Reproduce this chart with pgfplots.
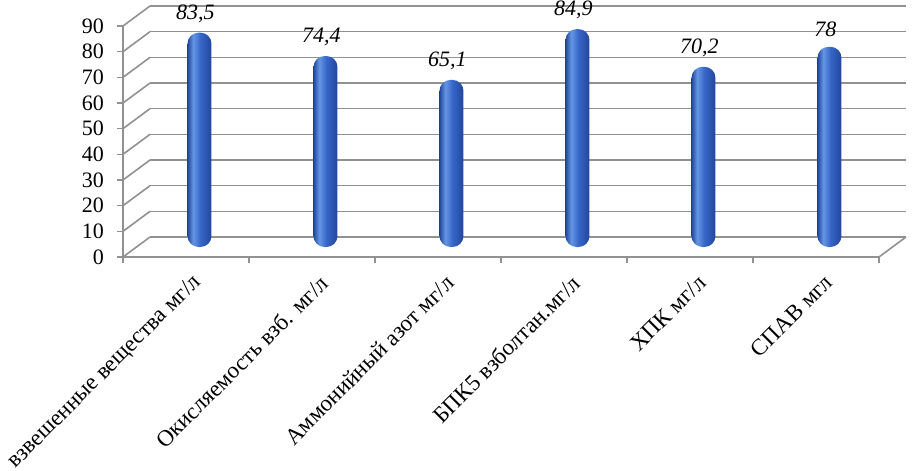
\documentclass[border=0pt]{standalone}
\usepackage{fontspec}
\setmainfont{Liberation Serif}
\usepackage{pgfplots}
\pgfplotsset{compat=1.18}
\definecolor{gridgray}{RGB}{145,145,145}
\definecolor{barDark}{RGB}{34,70,155}
\definecolor{barLight}{RGB}{100,150,228}
\definecolor{barMid}{RGB}{55,102,200}
\pgfdeclarehorizontalshading{cyl}{100bp}{color(0bp)=(barDark); color(25bp)=(barDark); color(37bp)=(barLight); color(52bp)=(barMid); color(75bp)=(barDark); color(100bp)=(barDark)}
\pgfplotsset{cylbar/.style={ybar, bar width=12pt, draw=none, shading=cyl, rounded corners=5.5pt,
  xshift=6.75pt, yshift=5pt,
  nodes near coords, point meta=explicit symbolic,
  nodes near coords style={font=\itshape\fontsize{11}{11}\selectfont, anchor=south, yshift=1.5pt, xshift=-2pt}}}
\begin{document}
\begin{tikzpicture}
\begin{axis}[
  name=ax, at={(0,0)}, anchor=south west,
  scale only axis, width=378pt, height=115.5pt,
  xmin=0, xmax=6, ymin=0, ymax=90,
  clip=false,
  axis x line*=bottom, axis y line*=left,
  axis line style={gridgray, line width=0.8pt},
  ytick={0,10,...,90},
  /pgf/number format/assume math mode=true,
  yticklabel style={font=\fontsize{11}{11}\selectfont, xshift=-3pt},
  xtick={0.5,1.5,...,5.5},
  xticklabels={взвешенные вещества мг/л, Окисляемость взб. мг/л, Аммонийный азот мг/л, БПК5 взболтан.мг/л, ХПК мг/л, СПАВ мгл},
  xticklabel style={rotate=45, anchor=east, font=\fontsize{11.5}{11.5}\selectfont, xshift=2pt, yshift=-10pt},
  major x tick style={draw=none},
  minor xtick={0,1,...,6},
  tick style={gridgray, line width=0.8pt},
  major tick length=3pt, minor tick length=3pt,
  tick align=outside,
  ymajorgrids,
  major grid style={gridgray, line width=0.8pt, xshift=13.5pt, yshift=10pt},
]
\addplot[cylbar] coordinates {(0.5,83.5)[83,5]};
\addplot[cylbar] coordinates {(1.5,74.4)[74,4]};
\addplot[cylbar] coordinates {(2.5,65.1)[65,1]};
\addplot[cylbar] coordinates {(3.5,84.9)[84,9]};
\addplot[cylbar] coordinates {(4.5,70.2)[70,2]};
\addplot[cylbar] coordinates {(5.5,78)[78]};
\pgfplotsinvokeforeach{0,10,...,90}{\draw[gridgray, line width=0.8pt] (axis cs:0,#1) -- ++(13.5pt,10pt);}
\draw[gridgray, line width=0.8pt] (axis cs:6,0) -- ++(13.5pt,10pt);
\end{axis}
\pgfresetboundingbox
\useasboundingbox (ax.south west) ++(-61.5pt,-107pt) rectangle ++(456pt,235.5pt);
\end{tikzpicture}
\end{document}
